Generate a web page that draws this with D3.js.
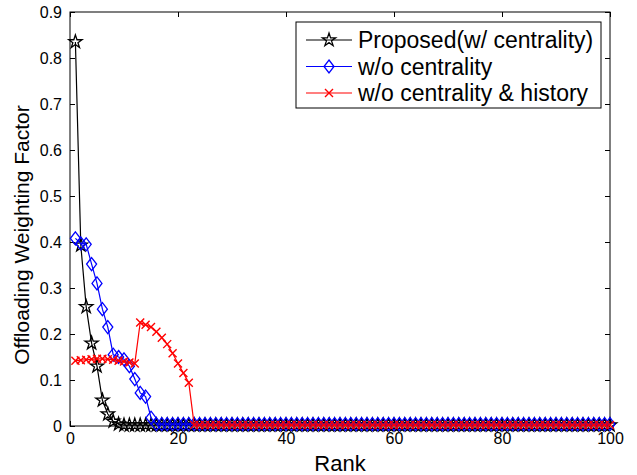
<!DOCTYPE html>
<html>
<head>
<meta charset="utf-8">
<script src="https://cdn.jsdelivr.net/npm/d3@7"></script>
<style>
  html, body { margin: 0; padding: 0; background: #fff; }
  svg { display: block; font-family: "Liberation Sans", Arial, sans-serif; }
</style>
</head>
<body>
<svg id="chart" width="637" height="475"></svg>
<script>
// Rank axis: 1..100
const ranks = d3.range(1, 101);

// Proposed scheme (with centrality)
const proposedHead = [0.835, 0.393, 0.259, 0.18, 0.13, 0.056, 0.026, 0.01, 0.004, 0.002];
// Without centrality
const noCentralityHead = [0.408, 0.397, 0.395, 0.352, 0.31, 0.254, 0.215, 0.155, 0.15, 0.145,
                          0.13, 0.102, 0.072, 0.064, 0.018];
// Without centrality and history
const noCentHistHead = [0.142, 0.143, 0.144, 0.145, 0.146, 0.146, 0.145, 0.144, 0.142, 0.14,
                        0.138, 0.136, 0.225, 0.22, 0.215, 0.205, 0.192, 0.178, 0.158, 0.136,
                        0.115, 0.094];
// Tail values beyond the listed head, per series
const proposedTail = 0.002;
const noCentralityTail = 0.004;
const noCentHistTail = 0.002;

const xTicks = [0, 20, 40, 60, 80, 100];
const yTicks = [0, 0.1, 0.2, 0.3, 0.4, 0.5, 0.6, 0.7, 0.8, 0.9];
const seriesNames = ["Proposed(w/ centrality)", "w/o centrality", "w/o centrality & history"];

function fullSeries(head, tail) {
  return ranks.map((r, i) => ({ r, v: i < head.length ? head[i] : tail }));
}

const series = [
  { name: seriesNames[0], color: "#000000", marker: "star",    data: fullSeries(proposedHead, proposedTail) },
  { name: seriesNames[1], color: "#0000ff", marker: "diamond", data: fullSeries(noCentralityHead, noCentralityTail) },
  { name: seriesNames[2], color: "#ff0000", marker: "cross",   data: fullSeries(noCentHistHead, noCentHistTail) }
];

const svg = d3.select("#chart");
const plotL = 70, plotR = 610, plotT = 12, plotB = 426;

const x = d3.scaleLinear().domain([0, 100]).range([plotL, plotR]);
const y = d3.scaleLinear().domain([0, 0.9]).range([plotB, plotT]);

// Axis box
svg.append("rect")
  .attr("x", plotL).attr("y", plotT)
  .attr("width", plotR - plotL).attr("height", plotB - plotT)
  .attr("fill", "none").attr("stroke", "#000").attr("stroke-width", 1);

const tickLen = 5;
const fmtY = d => d === 0 ? "0" : d3.format(".1f")(d);

// Bottom/top and left/right axes with inward ticks
const xAxisB = svg.append("g").attr("transform", `translate(0,${plotB})`)
  .call(d3.axisBottom(x).tickValues(xTicks).tickSizeInner(-tickLen).tickSizeOuter(0).tickPadding(7));
const xAxisT = svg.append("g").attr("transform", `translate(0,${plotT})`)
  .call(d3.axisTop(x).tickValues(xTicks).tickSizeInner(-tickLen).tickSizeOuter(0).tickFormat(""));
const yAxisL = svg.append("g").attr("transform", `translate(${plotL},0)`)
  .call(d3.axisLeft(y).tickValues(yTicks).tickSizeInner(-tickLen).tickSizeOuter(0).tickPadding(8).tickFormat(fmtY));
const yAxisR = svg.append("g").attr("transform", `translate(${plotR},0)`)
  .call(d3.axisRight(y).tickValues(yTicks).tickSizeInner(-tickLen).tickSizeOuter(0).tickFormat(""));

[xAxisB, xAxisT, yAxisL, yAxisR].forEach(g => {
  g.select(".domain").remove();
  g.selectAll("line").attr("stroke", "#000");
  g.selectAll("text").attr("fill", "#000")
    .style("font-family", "'Liberation Sans', Arial, sans-serif")
    .style("font-size", "16px");
});

// Axis titles
svg.append("text")
  .attr("x", (plotL + plotR) / 2).attr("y", 471)
  .attr("text-anchor", "middle")
  .style("font-size", "22px")
  .text("Rank");
svg.append("text")
  .attr("transform", `translate(29,${(plotT + plotB) / 2 + 16}) rotate(-90)`)
  .attr("text-anchor", "middle")
  .style("font-size", "21px")
  .text("Offloading Weighting Factor");

// Marker drawing
function drawMarker(sel, type, color) {
  if (type === "star") {
    sel.append("path")
      .attr("d", d3.symbol(d3.symbolStar, 55)())
      .attr("fill", "none").attr("stroke", color).attr("stroke-width", 1.3);
  } else if (type === "diamond") {
    sel.append("path")
      .attr("d", "M0,-6.5L5,0L0,6.5L-5,0Z")
      .attr("fill", "none").attr("stroke", color).attr("stroke-width", 1.3);
  } else {
    sel.append("path")
      .attr("d", "M-4,-4L4,4M-4,4L4,-4")
      .attr("fill", "none").attr("stroke", color).attr("stroke-width", 1.4);
  }
}

const line = d3.line().x(d => x(d.r)).y(d => y(d.v));

series.forEach(s => {
  const g = svg.append("g");
  g.append("path")
    .datum(s.data)
    .attr("d", line)
    .attr("fill", "none")
    .attr("stroke", s.color)
    .attr("stroke-width", 1.2);
  g.selectAll("g.m")
    .data(s.data)
    .join("g")
    .attr("class", "m")
    .attr("transform", d => `translate(${x(d.r)},${y(d.v)})`)
    .each(function () { drawMarker(d3.select(this), s.marker, s.color); });
});

// Legend
const lg = svg.append("g").attr("transform", "translate(296,22)");
lg.append("rect")
  .attr("width", 305).attr("height", 86)
  .attr("fill", "#fff").attr("stroke", "#000").attr("stroke-width", 1);
series.forEach((s, i) => {
  const yy = 18 + i * 26.5;
  lg.append("line")
    .attr("x1", 10).attr("x2", 56).attr("y1", yy).attr("y2", yy)
    .attr("stroke", s.color).attr("stroke-width", 1.2);
  const m = lg.append("g").attr("transform", `translate(33,${yy})`);
  drawMarker(m, s.marker, s.color);
  lg.append("text")
    .attr("x", 62).attr("y", yy + 8)
    .style("font-size", "23px")
    .text(s.name);
});
</script>
</body>
</html>
